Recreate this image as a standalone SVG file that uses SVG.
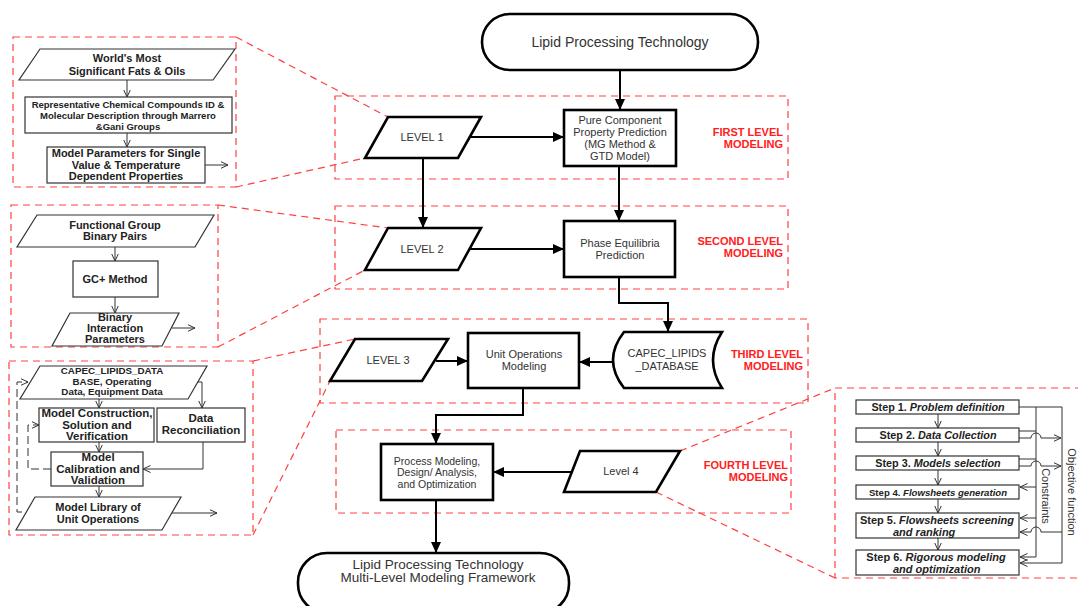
<svg xmlns="http://www.w3.org/2000/svg" width="1078" height="606" viewBox="0 0 1078 606">
<defs>
<style>
.m{fill:#fff;stroke:#000;stroke-width:2.6}
.t{font-family:"Liberation Sans",Arial,sans-serif;fill:#333;text-anchor:middle}
.mt{font-size:11px}
.lt{font-size:11px}
.r{font-family:"Liberation Sans",Arial,sans-serif;fill:#ff2020;font-weight:bold;font-size:11px;text-anchor:end}
.rd{fill:none;stroke:#ff4040;stroke-width:1.2;stroke-dasharray:7,5}
.w{fill:#fff;stroke:#333;stroke-width:1.2}
.b{font-family:"Liberation Sans",Arial,sans-serif;fill:#222;font-weight:bold;text-anchor:middle}
.c{fill:none;stroke:#000;stroke-width:2}
.tl{fill:none;stroke:#333;stroke-width:1}
.dl{fill:none;stroke:#333;stroke-width:1;stroke-dasharray:8,4}
.it{font-style:italic}
.st{text-anchor:start}
</style>
<marker id="ah" viewBox="0 0 11 10" refX="11" refY="5" markerWidth="11" markerHeight="10" markerUnits="userSpaceOnUse" orient="auto"><path d="M0,0 L11,5 L0,10 z" fill="#000"/></marker>
<marker id="oa" viewBox="0 0 8 8" refX="7.5" refY="4" markerWidth="8" markerHeight="8" markerUnits="userSpaceOnUse" orient="auto"><path d="M0,0.5 L7.5,4 L0,7.5" fill="none" stroke="#333" stroke-width="1"/></marker>
</defs>
<rect width="1078" height="606" fill="#fff"/>

<g id="frames">
<rect class="rd" x="335" y="96" width="453" height="83"/>
<rect class="rd" x="335" y="206" width="453" height="83"/>
<rect class="rd" x="320" y="319" width="488" height="84"/>
<rect class="rd" x="336" y="430" width="455" height="83"/>
<rect class="rd" x="13" y="37" width="223" height="150"/>
<rect class="rd" x="11" y="205" width="207" height="142"/>
<rect class="rd" x="9" y="361" width="244" height="174"/>
<rect class="rd" x="835" y="388" width="260" height="190"/>
<path class="rd" d="M236,37 L388,117 M236,187 L365,158 M218,205 L388,228 M218,347 L365,270 M253,361 L355,339 M253,535 L330,381 M680,451 L835,388 M656,492 L835,578"/>
<text class="r" x="783" y="136">FIRST LEVEL</text><text class="r" x="783" y="148">MODELING</text>
<text class="r" x="783" y="245">SECOND LEVEL</text><text class="r" x="783" y="257">MODELING</text>
<text class="r" x="803" y="358">THIRD LEVEL</text><text class="r" x="803" y="370">MODELING</text>
<text class="r" x="788" y="469">FOURTH LEVEL</text><text class="r" x="788" y="481">MODELING</text>
</g>

<g id="connectors">
<path class="c" d="M620,70 V110" marker-end="url(#ah)"/>
<path class="c" d="M470,137 H564" marker-end="url(#ah)"/>
<path class="c" d="M423,158 V228" marker-end="url(#ah)"/>
<path class="c" d="M619,166 V221" marker-end="url(#ah)"/>
<path class="c" d="M470,249 H564" marker-end="url(#ah)"/>
<path class="c" d="M619,277 V303 H668 V332" marker-end="url(#ah)"/>
<path class="c" d="M436,361 H468" marker-end="url(#ah)"/>
<path class="c" d="M613,362 H579" marker-end="url(#ah)"/>
<path class="c" d="M523,388 V415 H436 V444" marker-end="url(#ah)"/>
<path class="c" d="M575,472 H493" marker-end="url(#ah)"/>
<path class="c" d="M436,500 V553" marker-end="url(#ah)"/>
<path class="tl" d="M127,80 V97" marker-end="url(#oa)"/>
<path class="tl" d="M127,133 V147" marker-end="url(#oa)"/>
<path class="tl" d="M205,165 H228" marker-end="url(#oa)"/>
<path class="tl" d="M115,247 V261" marker-end="url(#oa)"/>
<path class="tl" d="M115,297 V313" marker-end="url(#oa)"/>
<path class="tl" d="M172,328 H195" marker-end="url(#oa)"/>
<path class="tl" d="M99,399 V408" marker-end="url(#oa)"/>
<path class="tl" d="M198,382 H202 V408" marker-end="url(#oa)"/>
<path class="tl" d="M99,442 V452" marker-end="url(#oa)"/>
<path class="tl" d="M203,442 V469 H143" marker-end="url(#oa)"/>
<path class="tl" d="M99,486 V497" marker-end="url(#oa)"/>
<path class="tl" d="M172,513 H217" marker-end="url(#oa)"/>
<path class="dl" d="M22,512 H17 V382 H28" marker-end="url(#oa)"/>
<path class="dl" d="M51,469 H28 V425 H39" marker-end="url(#oa)"/>
<path class="tl" d="M938,414 V428" marker-end="url(#oa)"/>
<path class="tl" d="M938,442 V456" marker-end="url(#oa)"/>
<path class="tl" d="M938,470 V485" marker-end="url(#oa)"/>
<path class="tl" d="M938,499 V513" marker-end="url(#oa)"/>
<path class="tl" d="M938,538 V550" marker-end="url(#oa)"/>
<path class="tl" d="M1019,407 H1062 V563 H1020" marker-end="url(#oa)"/>
<path class="tl" d="M1036,407 V557"/>
<path class="tl" d="M1019,431 H1036"/>
<path class="tl" d="M1019,438 H1031 A5,5 0 0 1 1041,438 H1061" marker-end="url(#oa)"/>
<path class="tl" d="M1019,459 H1036"/>
<path class="tl" d="M1019,466 H1031 A5,5 0 0 1 1041,466 H1061" marker-end="url(#oa)"/>
<path class="tl" d="M1036,487 H1020" marker-end="url(#oa)"/>
<path class="tl" d="M1036,518 H1020" marker-end="url(#oa)"/>
<path class="tl" d="M1062,532 H1041 A5,5 0 0 0 1031,532 H1020" marker-end="url(#oa)"/>
<path class="tl" d="M1036,557 H1020" marker-end="url(#oa)"/>
</g>

<g id="n-top">
<rect class="m" x="482" y="14" width="276" height="56" rx="28"/>
<text class="t" x="620" y="47" font-size="14">Lipid Processing Technology</text>
</g>
<g id="n-pure">
<rect class="m" x="564" y="110" width="112" height="56"/>
<text class="t mt" x="620" y="124">Pure Component</text>
<text class="t mt" x="620" y="136">Property Prediction</text>
<text class="t mt" x="620" y="148">(MG Method &amp;</text>
<text class="t mt" x="620" y="160">GTD Model)</text>
</g>
<g id="n-level1">
<path class="m" d="M388,117 H481 L458,158 H365 Z"/>
<text class="t lt" x="422" y="141">LEVEL 1</text>
</g>
<g id="n-level2">
<path class="m" d="M388,228 H481 L458,270 H365 Z"/>
<text class="t lt" x="422" y="253">LEVEL 2</text>
</g>
<g id="n-phase">
<rect class="m" x="564" y="221" width="111" height="56"/>
<text class="t mt" x="620" y="247">Phase Equilibria</text>
<text class="t mt" x="620" y="259">Prediction</text>
</g>
<g id="n-level3">
<path class="m" d="M355,339 H448 L422,381 H330 Z"/>
<text class="t lt" x="388" y="364">LEVEL 3</text>
</g>
<g id="n-unit">
<rect class="m" x="468" y="333" width="111" height="55"/>
<text class="t mt" x="524" y="358">Unit Operations</text>
<text class="t mt" x="524" y="370">Modeling</text>
</g>
<g id="n-db">
<path class="m" d="M624,332 L722,332 Q704,360 722,388 L624,388 Q602,360 624,332 Z"/>
<text class="t mt" x="667" y="357">CAPEC_LIPIDS</text>
<text class="t mt" x="667" y="370">_DATABASE</text>
</g>
<g id="n-process">
<rect class="m" x="381" y="444" width="112" height="56"/>
<text class="t" x="437" y="465" font-size="10.5">Process Modeling,</text>
<text class="t" x="437" y="476" font-size="10.5">Design/ Analysis,</text>
<text class="t" x="437" y="488" font-size="10.5">and Optimization</text>
</g>
<g id="n-level4">
<path class="m" d="M580,451 H680 L656,492 H564 Z"/>
<text class="t lt" x="621" y="475">Level 4</text>
</g>
<g id="n-bottom">
<rect class="m" x="298" y="553" width="271" height="60" rx="29"/>
<text class="t" x="438" y="569" font-size="13.5">Lipid Processing Technology</text>
<text class="t" x="438" y="582" font-size="13.5">Multi-Level Modeling Framework</text>
</g>

<g id="n-fats">
<path class="w" d="M40,49 H235 L213,80 H19 Z"/>
<text class="b" x="127" y="62" font-size="11">World's Most</text>
<text class="b" x="127" y="75" font-size="11">Significant Fats &amp; Oils</text>
</g>
<g id="n-repr">
<rect class="w" x="25" y="97" width="207" height="36"/>
<text class="b" x="128" y="108" font-size="9.5">Representative Chemical Compounds ID &amp;</text>
<text class="b" x="128" y="119" font-size="9.5">Molecular Description through Marrero</text>
<text class="b" x="128" y="130" font-size="9.5">&amp;Gani Groups</text>
</g>
<g id="n-params">
<rect class="w" x="47" y="147" width="158" height="36"/>
<text class="b" x="126" y="157" font-size="11">Model Parameters for Single</text>
<text class="b" x="126" y="169" font-size="11">Value &amp; Temperature</text>
<text class="b" x="126" y="180" font-size="11">Dependent Properties</text>
</g>
<g id="n-fg">
<path class="w" d="M37,215 H214 L195,247 H17 Z"/>
<text class="b" x="115" y="229" font-size="11">Functional Group</text>
<text class="b" x="115" y="240" font-size="11">Binary Pairs</text>
</g>
<g id="n-gc">
<rect class="w" x="73" y="261" width="85" height="36"/>
<text class="b" x="115" y="283" font-size="11">GC+ Method</text>
</g>
<g id="n-bip">
<path class="w" d="M70,313 H179 L162,346 H52 Z"/>
<text class="b" x="115" y="321" font-size="11">Binary</text>
<text class="b" x="115" y="332" font-size="11">Interaction</text>
<text class="b" x="115" y="343" font-size="11">Parameters</text>
</g>
<g id="n-capecdata">
<path class="w" d="M40,366 H207 L188,399 H20 Z"/>
<text class="b" x="112" y="374" font-size="9.8">CAPEC_LIPIDS_DATA</text>
<text class="b" x="112" y="385" font-size="9.8">BASE, Operating</text>
<text class="b" x="112" y="395" font-size="9.8">Data, Equipment Data</text>
</g>
<g id="n-construct">
<rect class="w" x="39" y="408" width="115" height="34"/>
<text class="b" x="97" y="417" font-size="11.5">Model Construction,</text>
<text class="b" x="97" y="429" font-size="11.5">Solution and</text>
<text class="b" x="97" y="440" font-size="11.5">Verification</text>
</g>
<g id="n-recon">
<rect class="w" x="157" y="408" width="88" height="34"/>
<text class="b" x="201" y="422" font-size="11.5">Data</text>
<text class="b" x="201" y="434" font-size="11.5">Reconciliation</text>
</g>
<g id="n-calib">
<rect class="w" x="51" y="452" width="92" height="34"/>
<text class="b" x="98" y="461" font-size="11.5">Model</text>
<text class="b" x="98" y="473" font-size="11.5">Calibration and</text>
<text class="b" x="98" y="484" font-size="11.5">Validation</text>
</g>
<g id="n-library">
<path class="w" d="M35,497 H181 L162,530 H16 Z"/>
<text class="b" x="98" y="511" font-size="11">Model Library of</text>
<text class="b" x="98" y="523" font-size="11">Unit Operations</text>
</g>

<g id="n-step1">
<rect class="w" x="856" y="400" width="163" height="14"/>
<text class="b" x="938" y="411" font-size="10.8">Step 1. <tspan class="it">Problem definition</tspan></text>
</g>
<g id="n-step2">
<rect class="w" x="856" y="428" width="163" height="14"/>
<text class="b" x="938" y="439" font-size="10.8">Step 2. <tspan class="it">Data Collection</tspan></text>
</g>
<g id="n-step3">
<rect class="w" x="856" y="456" width="163" height="14"/>
<text class="b" x="938" y="467" font-size="10.8">Step 3. <tspan class="it">Models selection</tspan></text>
</g>
<g id="n-step4">
<rect class="w" x="856" y="485" width="163" height="14"/>
<text class="b" x="938" y="495.5" font-size="9.6">Step 4. <tspan class="it">Flowsheets generation</tspan></text>
</g>
<g id="n-step5">
<rect class="w" x="856" y="513" width="163" height="25"/>
<text class="b" x="937" y="523.5" font-size="11">Step 5. <tspan class="it">Flowsheets screening</tspan></text>
<text class="b it st" x="893" y="535.5" font-size="11">and ranking</text>
</g>
<g id="n-step6">
<rect class="w" x="856" y="550" width="163" height="25"/>
<text class="b" x="936" y="560.5" font-size="11">Step 6. <tspan class="it">Rigorous modeling</tspan></text>
<text class="b it st" x="893" y="572.5" font-size="11">and optimization</text>
</g>
<g id="labels-right">
<text class="t" x="1042" y="496" font-size="11" transform="rotate(90 1042 496)">Constraints</text>
<text class="t" x="1068" y="492" font-size="11" transform="rotate(90 1068 492)">Objective function</text>
</g>
</svg>
